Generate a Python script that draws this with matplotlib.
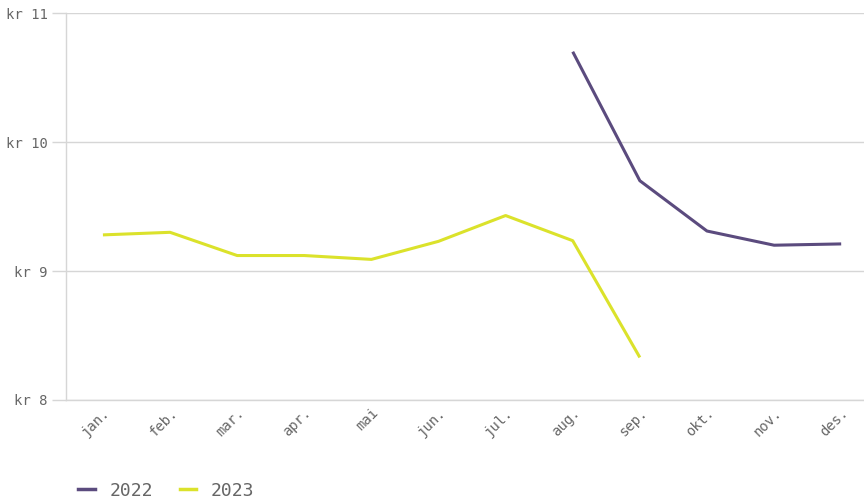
import numpy as np
import matplotlib
matplotlib.use("Agg")
import matplotlib.pyplot as plt
from matplotlib.lines import Line2D

months = ["jan.", "feb.", "mar.", "apr.", "mai", "jun.", "jul.", "aug.",
          "sep.", "okt.", "nov.", "des."]
# NaN = no data for that month
price_2022 = [np.nan] * 7 + [10.70, 9.70, 9.31, 9.20, 9.21]
price_2023 = [9.28, 9.30, 9.12, 9.12, 9.09, 9.23, 9.43, 9.235, 8.33] + [np.nan] * 3
yticks = [8, 9, 10, 11]

purple = "#5b4b7e"
yellow = "#dbe22b"
grey_text = "#666666"
grid = "#d6d6d6"

plt.rcParams["font.family"] = ["DejaVu Sans Mono"]

fig = plt.figure(figsize=(8.64, 5.01), dpi=100)
ax = fig.add_axes([0.0764, 0.2016, 0.9236, 0.7724])

x = np.arange(len(months))
ax.plot(x, price_2022, color=purple, lw=2.2, solid_capstyle="butt")
ax.plot(x, price_2023, color=yellow, lw=2.2, solid_capstyle="butt")

ax.set_ylim(8, 11)
ax.set_xlim(-0.55, 11.34)
ax.set_yticks(yticks)
ax.set_yticklabels([f"kr {v}" for v in yticks], color=grey_text, fontsize=10)
ax.set_xticks(x)
ax.set_xticklabels(months, rotation=45, ha="right", rotation_mode="anchor",
                   color=grey_text, fontsize=10)
ax.tick_params(axis="x", length=0, pad=4)
ax.tick_params(axis="y", length=10, color=grid, width=1, pad=3)

ax.grid(axis="y", color=grid, lw=1)
ax.set_axisbelow(True)
for s in ["top", "right"]:
    ax.spines[s].set_visible(False)
for s in ["left", "bottom"]:
    ax.spines[s].set_color(grid)
    ax.spines[s].set_linewidth(1)

handles = [Line2D([], [], color=purple, lw=2.5),
           Line2D([], [], color=yellow, lw=2.5)]
fig.legend(handles, ["2022", "2023"], loc="lower left",
           bbox_to_anchor=(0.072, -0.03), ncol=2, frameon=False,
           handlelength=0.9, handletextpad=0.8, columnspacing=1.5,
           labelcolor=grey_text, prop={"size": 13})

fig.savefig("out.png", dpi=100)
